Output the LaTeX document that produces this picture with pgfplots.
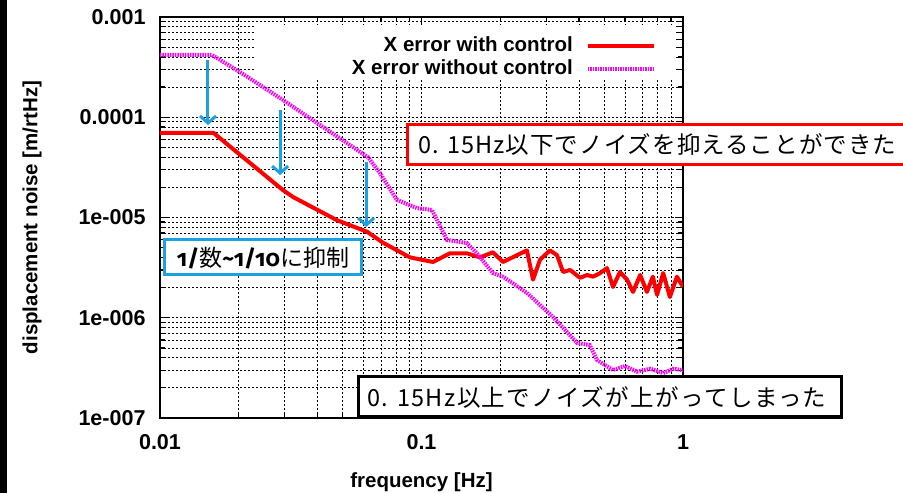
\documentclass[border=0pt]{standalone}
\usepackage{fontspec}
\setmainfont{Liberation Sans}
\newfontfamily\jp{Noto Sans CJK JP}
\newfontfamily\jpw[LetterSpace=6]{Noto Sans CJK JP}
\newfontfamily\jpv[LetterSpace=4.5]{Noto Sans CJK JP}
\newfontfamily\osf[Numbers=OldStyle]{Fira Sans}
\usepackage{pgfplots}
\usepackage{pgfplotstable}
\pgfplotsset{compat=1.18}
\usetikzlibrary{arrows.meta}
\definecolor{pred}{RGB}{255,0,0}
\definecolor{pmag}{RGB}{255,0,255}
\definecolor{pcyan}{RGB}{27,161,226}

\pgfplotstableread{
f v
0.01 7.0e-5
0.016 7.0e-5
0.0221 3.5e-5
0.0295 1.88e-5
0.0323 1.6e-5
0.0475 9.4e-6
0.062 7.2e-6
0.0713 5.6e-6
0.0904 4.0e-6
0.1107 3.6e-6
0.1285 4.4e-6
0.149 4.4e-6
0.1675 4.0e-6
0.1875 4.5e-6
0.205 3.6e-6
0.253 4.7e-6
0.267 2.4e-6
0.284 3.8e-6
0.31 4.7e-6
0.33 4.2e-6
0.348 2.86e-6
0.37 3.0e-6
0.404 2.5e-6
0.43 2.67e-6
0.453 2.57e-6
0.482 2.79e-6
0.512 3.13e-6
0.54 2.03e-6
0.574 2.86e-6
0.611 2.4e-6
0.644 1.81e-6
0.686 2.67e-6
0.728 1.81e-6
0.767 2.57e-6
0.796 1.69e-6
0.84 2.79e-6
0.891 1.61e-6
0.948 2.57e-6
1.0 2.03e-6
}\redtab

\pgfplotstableread{
f v
0.01 4.18e-4
0.0158 4.18e-4
0.0202 2.83e-4
0.0295 1.49e-4
0.042 8.0e-5
0.0624 4.0e-5
0.0693 2.78e-5
0.0805 1.5e-5
0.0962 1.24e-5
0.1096 1.19e-5
0.1253 5.97e-6
0.149 5.57e-6
0.163 4.4e-6
0.1875 2.79e-6
0.205 2.57e-6
0.253 1.77e-6
0.318 1.02e-6
0.394 5.6e-7
0.44 5.35e-7
0.469 3.79e-7
0.54 3.01e-7
0.6 3.3e-7
0.667 2.9e-7
0.75 3.1e-7
0.84 2.81e-7
0.92 3.1e-7
1.0 3.0e-7
}\magtab

\begin{document}
\begin{tikzpicture}
\fill[black] (-160bp,-75bp) rectangle (-153bp,418bp);
\begin{axis}[
  at={(0,0)}, anchor=south west,
  scale only axis, width=523bp, height=401bp,
  xmode=log, ymode=log,
  xmin=0.01, xmax=1, ymin=1e-7, ymax=1e-3,
  xtick={0.01,0.1,1}, xticklabels={0.01,0.1,1},
  ytick={1e-7,1e-6,1e-5,1e-4,1e-3},
  yticklabels={1e-007,1e-006,1e-005,0.0001,0.001},
  minor xtick={0.02,0.03,0.04,0.05,0.06,0.07,0.08,0.09,0.2,0.3,0.4,0.5,0.6,0.7,0.8,0.9},
  minor ytick={2e-7,3e-7,4e-7,5e-7,6e-7,7e-7,8e-7,9e-7,2e-6,3e-6,4e-6,5e-6,6e-6,7e-6,8e-6,9e-6,2e-5,3e-5,4e-5,5e-5,6e-5,7e-5,8e-5,9e-5,2e-4,3e-4,4e-4,5e-4,6e-4,7e-4,8e-4,9e-4},
  grid=both,
  major grid style={black, line width=0.8bp, dash pattern=on 2.5bp off 1.5bp},
  minor grid style={black, line width=0.8bp, dash pattern=on 2.5bp off 1.5bp},
  tick align=inside, xtick pos=both, ytick pos=both,
  major tick length=8bp, minor tick length=5bp,
  every tick/.style={black, line width=1.2bp},
  axis line style={black, line width=1.6bp},
  tick label style={font=\fontsize{21.5bp}{25bp}\selectfont\bfseries},
  yticklabel style={xshift=-11bp},
  xticklabel style={yshift=-13bp},
  label style={font=\fontsize{20.5bp}{24bp}\selectfont\bfseries},
  xlabel={frequency [Hz]},
  ylabel={displacement noise [m/rtHz]},
  xlabel style={at={(axis description cs:0.5,-0.16)}, anchor=center},
  ylabel style={at={(axis description cs:-0.2447,0.5)}, anchor=center},
  clip mode=individual,
  legend plot pos=right,
  legend cell align=right,
  legend style={at={(rel axis cs:0.948,0.955)}, anchor=north east, draw=none, fill=none,
    inner sep=0pt, outer sep=0pt, row sep=2bp, column sep=12bp,
    font=\fontsize{20.5bp}{24bp}\selectfont\bfseries,
    nodes={inner sep=1bp, text height=15bp, text depth=4bp}},
  legend image code/.code={\draw[#1] (0bp,0bp) -- (66bp,0bp);},
]
\addplot[pred, line width=4bp, line join=round] table[x=f, y=v] {\redtab};
\addlegendentry{X error with control}
\addplot[pmag, line width=4bp, dash pattern=on 1.5bp off 1bp] table[x=f, y=v] {\magtab};
\addlegendentry{X error without control}
\fill[white] (rel axis cs:0.1816,0.848) rectangle (rel axis cs:0.983,0.980);
\draw[pcyan, line width=3bp, -{Straight Barb[length=7bp, width=16bp]}] (axis cs:0.01526,3.72e-4) -- (axis cs:0.01526,8.37e-5);
\draw[pcyan, line width=3bp, -{Straight Barb[length=7bp, width=16bp]}] (axis cs:0.0288,1.18e-4) -- (axis cs:0.0288,2.65e-5);
\draw[pcyan, line width=3bp, -{Straight Barb[length=7bp, width=16bp]}] (axis cs:0.0614,3.58e-5) -- (axis cs:0.0614,8.04e-6);
\end{axis}
% annotation boxes
\draw[pcyan, line width=3bp, fill=white] (4bp,143bp) rectangle (201bp,178bp);
\node[anchor=center, inner sep=0pt] at (103bp,160bp) {\fontsize{23bp}{27bp}\selectfont{\osf\bfseries 1/}{\jp 数}{\osf\bfseries\textasciitilde 1/10}{\jp に抑制}};
\draw[pred, line width=3bp, fill=white] (247bp,253bp) rectangle (800bp,293bp);
\node[anchor=west, inner sep=0pt] at (258bp,273bp) {\fontsize{23.5bp}{28bp}\selectfont\jpv 0. 15Hz以下でノイズを抑えることができた};
\draw[black, line width=3bp, fill=white] (198bp,1bp) rectangle (681bp,41bp);
\node[anchor=west, inner sep=0pt] at (207bp,21bp) {\fontsize{23.5bp}{28bp}\selectfont\jpw 0. 15Hz以上でノイズが上がってしまった};
\pgfresetboundingbox
\useasboundingbox (-160bp,-75bp) rectangle (743bp,418bp);
\end{tikzpicture}
\end{document}
